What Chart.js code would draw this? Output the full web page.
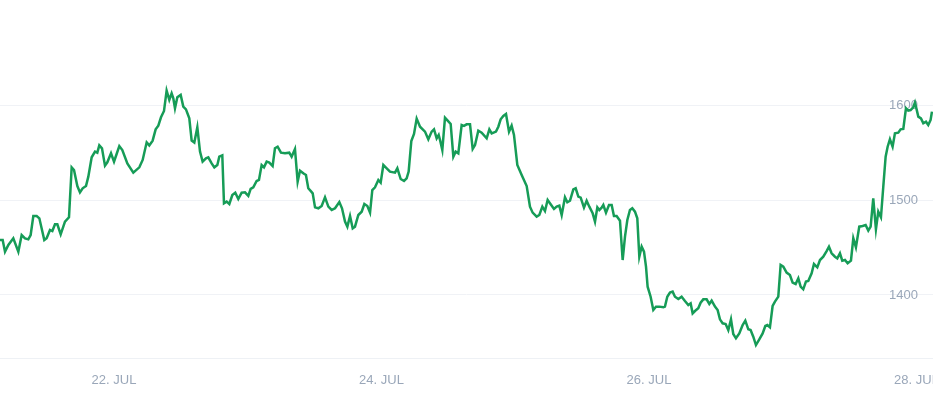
<!DOCTYPE html>
<html>
<head>
<meta charset="utf-8">
<script src="https://cdn.jsdelivr.net/npm/chart.js@4"></script>
<style>
  html, body { margin: 0; padding: 0; background: #fff; overflow: hidden; }
  #wrap { width: 933px; height: 396px; position: relative; }
</style>
</head>
<body>
<div id="wrap"><canvas id="priceChart"></canvas></div>
<script>
// hours counted from 21 Jul 00:00
var hours = [
    3.54, 4.02, 4.44, 5.04, 5.93, 6.83, 7.43, 8.03, 8.62, 9.04,
    9.52, 10.12, 10.60, 11.49, 11.91, 12.51, 12.93, 13.41, 13.83, 14.43,
    15.20, 15.92, 16.40, 16.82, 17.42, 17.89, 18.37, 18.97, 19.39, 19.99,
    20.59, 21.00, 21.36, 21.84, 22.38, 22.80, 23.46, 24.00, 24.47, 24.95,
    25.49, 26.39, 27.46, 28.54, 29.14, 29.86, 30.33, 30.93, 31.47, 31.95,
    32.43, 32.97, 33.44, 33.92, 34.34, 34.64, 34.94, 35.36, 35.96, 36.43,
    36.91, 37.51, 37.93, 38.41, 38.95, 39.43, 39.90, 40.50, 40.92, 41.52,
    42.00, 42.54, 42.89, 43.43, 43.73, 44.21, 44.69, 45.23, 45.76, 46.30,
    46.90, 47.50, 48.10, 48.52, 48.99, 49.59, 50.01, 50.49, 50.91, 51.39,
    51.87, 52.46, 52.88, 53.36, 53.96, 54.68, 55.45, 55.87, 56.47, 56.95,
    57.37, 57.96, 58.44, 58.86, 59.28,
    59.65, 60.07, 60.67, 61.26, 61.86, 62.46, 63.06, 63.66, 64.43, 64.91,
    65.45, 65.87, 66.35, 66.83, 67.24, 67.84, 68.44, 68.92, 69.46, 69.94,
    70.35, 70.83, 71.43, 71.85, 72.33, 72.93, 73.52, 74.42, 74.84, 75.44,
    76.04, 76.51, 76.87, 77.35, 77.83, 78.31, 78.91, 79.80, 80.40, 81.00,
    81.42, 81.90, 82.26, 82.50, 82.91, 83.39, 83.87, 84.41, 84.89, 85.31,
    85.78, 86.38, 86.80, 87.28, 87.88, 88.36, 88.78, 89.37, 89.97, 90.87,
    91.35, 91.77, 92.54, 92.96, 93.38, 93.86, 94.34, 94.88, 95.35, 95.77,
    96.37, 97.15, 98.05, 98.64, 99.12, 99.84, 100.32, 100.86, 101.33, 101.81,
    102.35, 102.95, 103.43, 103.91, 104.33, 104.92, 105.34, 105.82, 106.42, 106.84,
    107.32, 107.74, 108.33, 108.81, 109.29, 109.89, 110.31, 110.73, 111.08, 111.50,
    111.80, 112.28, 112.82, 113.30, 113.71, 114.19, 114.79,
    115.27, 115.69, 116.11, 116.58, 117.00, 117.48, 117.90, 118.26, 118.68, 119.10,
    119.46, 119.75, 120.29, 120.77, 121.25, 121.85, 122.57, 122.86, 123.28, 123.76,
    124.24, 124.66, 125.26, 125.85, 126.45, 127.05, 127.47, 127.83, 128.25, 128.84,
    129.26, 129.74, 130.34, 130.82, 131.24, 131.84, 132.31, 132.73, 133.21, 133.75,
    134.23, 134.71, 135.12, 135.60, 136.20, 136.80, 137.28, 137.82, 138.23, 138.71,
    139.19, 139.79, 140.39, 140.87, 141.23, 141.70, 142.18, 142.60, 143.20, 143.62,
    144.10, 144.69, 145.29, 145.77, 146.31, 146.79, 147.21, 147.68, 148.16, 148.58,
    149.18, 149.60, 150.20, 150.68, 151.27, 151.87, 152.29, 152.77, 153.37, 153.79,
    154.26, 154.68, 155.16, 155.64, 156.24, 156.66, 157.13, 157.73, 158.33, 158.87,
    159.35, 159.77, 160.24, 160.72, 161.14, 161.62, 162.04, 162.46, 162.82, 163.23,
    163.71, 164.13, 164.73, 165.15, 165.63, 166.11, 166.52, 166.94, 167.42, 167.72,
    168.02, 168.32, 168.80, 169.22, 169.70, 170.11, 170.53, 170.77
];

var prices = [
    1458.0, 1458.0, 1445.7, 1452.8, 1459.8, 1445.7, 1463.3, 1459.8, 1458.7, 1463.3,
    1483.4, 1483.4, 1480.9, 1458.0, 1459.8, 1468.6, 1467.5, 1474.6, 1474.6, 1464.0,
    1477.4, 1482.0, 1534.7, 1531.9, 1515.0, 1508.3, 1512.6, 1515.0, 1524.9, 1545.3,
    1551.3, 1550.2, 1557.9, 1554.8, 1536.5, 1540.0, 1549.5, 1540.7, 1548.8, 1557.2,
    1553.0, 1538.9, 1529.1, 1534.7, 1542.5, 1561.1, 1557.9, 1562.9, 1574.8, 1578.7,
    1587.5, 1594.2, 1615.6, 1605.8, 1612.8, 1607.6, 1597.0, 1608.6, 1611.1, 1598.8,
    1595.9, 1586.4, 1562.9, 1560.8, 1576.9, 1551.3, 1540.7, 1544.2, 1545.3, 1538.9,
    1534.7, 1537.2, 1546.0, 1547.4, 1496.7, 1498.5, 1496.0, 1505.5, 1508.0, 1501.3,
    1508.0, 1508.3, 1504.5, 1511.9, 1513.6, 1520.3, 1521.4, 1537.2, 1534.7, 1540.7,
    1539.7, 1536.1, 1554.8, 1556.5, 1550.2, 1549.5, 1550.2, 1546.0, 1554.1, 1519.6,
    1531.2, 1528.4, 1526.6, 1512.6, 1509.8,
    1507.3, 1492.5, 1491.5, 1493.9, 1503.1, 1493.2, 1489.7, 1491.5, 1498.1, 1491.5,
    1477.4, 1472.1, 1483.4, 1470.3, 1472.1, 1484.4, 1487.9, 1496.0, 1493.9, 1486.9,
    1510.8, 1513.6, 1521.4, 1518.5, 1537.2, 1533.7, 1530.2, 1529.1, 1533.7, 1522.4,
    1520.3, 1523.1, 1530.2, 1562.5, 1569.9, 1586.1, 1577.6, 1572.4, 1564.3, 1572.4,
    1574.8, 1565.3, 1568.9, 1563.6, 1553.0, 1587.1, 1584.0, 1580.5, 1546.0, 1551.3,
    1549.5, 1579.4, 1578.4, 1580.1, 1580.1, 1554.1, 1558.3, 1573.4, 1571.3, 1565.3,
    1574.8, 1570.6, 1572.4, 1577.6, 1585.4, 1588.9, 1591.0, 1572.4, 1578.7, 1568.9,
    1537.2, 1526.6, 1515.0, 1493.2, 1486.9, 1482.7, 1484.4, 1493.2, 1488.6, 1500.3,
    1495.7, 1490.8, 1493.2, 1494.3, 1484.4, 1503.1, 1497.8, 1499.5, 1511.5, 1512.6,
    1503.8, 1502.7, 1492.2, 1499.5, 1493.2, 1486.2, 1477.4, 1492.5, 1489.7, 1492.2,
    1495.0, 1486.9, 1495.0, 1495.0, 1483.4, 1483.4, 1478.4,
    1436.9, 1461.6, 1479.1, 1489.7, 1491.5, 1487.9, 1480.9, 1440.4, 1451.0, 1445.7,
    1429.9, 1408.8, 1398.2, 1384.2, 1387.7, 1387.7, 1387.0, 1387.7, 1398.2, 1402.5,
    1403.5, 1398.2, 1395.8, 1398.2, 1393.7, 1389.4, 1391.2, 1380.6, 1383.1, 1385.9,
    1391.9, 1395.4, 1395.4, 1390.5, 1394.0, 1387.7, 1384.2, 1374.3, 1370.1, 1369.4,
    1363.0, 1374.3, 1358.8, 1354.3, 1359.5, 1368.3, 1372.9, 1363.8, 1363.0, 1356.0,
    1347.2, 1353.2, 1359.5, 1367.3, 1368.3, 1365.9, 1388.4, 1393.0, 1398.2, 1431.7,
    1429.9, 1423.6, 1421.1, 1413.0, 1411.6, 1417.6, 1408.8, 1406.0, 1414.1, 1414.8,
    1422.9, 1432.7, 1429.2, 1436.9, 1440.4, 1446.4, 1451.0, 1444.0, 1440.4, 1438.7,
    1444.0, 1436.2, 1436.9, 1433.4, 1436.2, 1459.8, 1450.3, 1472.1, 1472.8, 1473.9,
    1467.9, 1472.1, 1502.0, 1469.3, 1487.9, 1482.0, 1514.3, 1546.0, 1556.5, 1564.3,
    1556.5, 1570.6, 1571.3, 1574.8, 1575.2, 1597.0, 1594.5, 1595.2, 1598.1, 1603.0,
    1595.9, 1588.2, 1586.4, 1581.2, 1582.9, 1579.4, 1584.7, 1593.5
];

var dayTicks = [24, 72, 120, 168];
var priceTicks = [1400, 1500, 1600];

var textColor = '#9aa7b9';
var gridColor = '#f0f2f6';
var lineGreen = '#169c57';

var points = hours.map(function (h, i) {
    return { x: h, y: prices[i] };
});

var ctx = document.getElementById('priceChart');

var priceChart = new Chart(ctx, {
    type: 'line',
    data: {
        datasets: [{
            data: points,
            borderColor: lineGreen,
            borderWidth: 2.5,
            pointRadius: 0,
            tension: 0,
            fill: false
        }]
    },
    options: {
        responsive: true,
        maintainAspectRatio: false,
        animation: false,
        layout: { padding: 0 },
        plugins: {
            legend: { display: false },
            tooltip: { enabled: false }
        },
        scales: {
            x: {
                type: 'linear',
                min: 3.54,
                max: 170.96,
                grid: { display: false, drawTicks: false },
                border: { display: true, color: '#eef1f5', width: 1 },
                afterBuildTicks: function (scale) {
                    scale.ticks = dayTicks.map(function (v) { return { value: v }; });
                },
                afterFit: function (scale) {
                    scale.height = 38;
                    scale.paddingLeft = 0;
                    scale.paddingRight = 0;
                },
                ticks: {
                    color: textColor,
                    padding: 15,
                    maxRotation: 0,
                    autoSkip: false,
                    font: { family: '"Liberation Sans", Arial, sans-serif', size: 13 },
                    callback: function (v) {
                        return (21 + Math.round(v / 24)) + '. JUL';
                    }
                }
            },
            y: {
                position: 'right',
                min: 1333.5,
                max: 1711.3,
                grid: { color: gridColor, lineWidth: 1, drawTicks: false },
                border: { display: true, color: '#edf0f4', width: 1 },
                afterBuildTicks: function (scale) {
                    scale.ticks = priceTicks.map(function (v) { return { value: v }; });
                },
                afterFit: function (scale) {
                    scale.width = 0;
                    scale.paddingTop = 0;
                    scale.paddingBottom = 0;
                },
                ticks: {
                    mirror: true,
                    padding: -15,
                    color: textColor,
                    font: { family: '"Liberation Sans", Arial, sans-serif', size: 13 },
                    callback: function (v) {
                        return String(v);
                    }
                }
            }
        }
    }
});
</script>
</body>
</html>
